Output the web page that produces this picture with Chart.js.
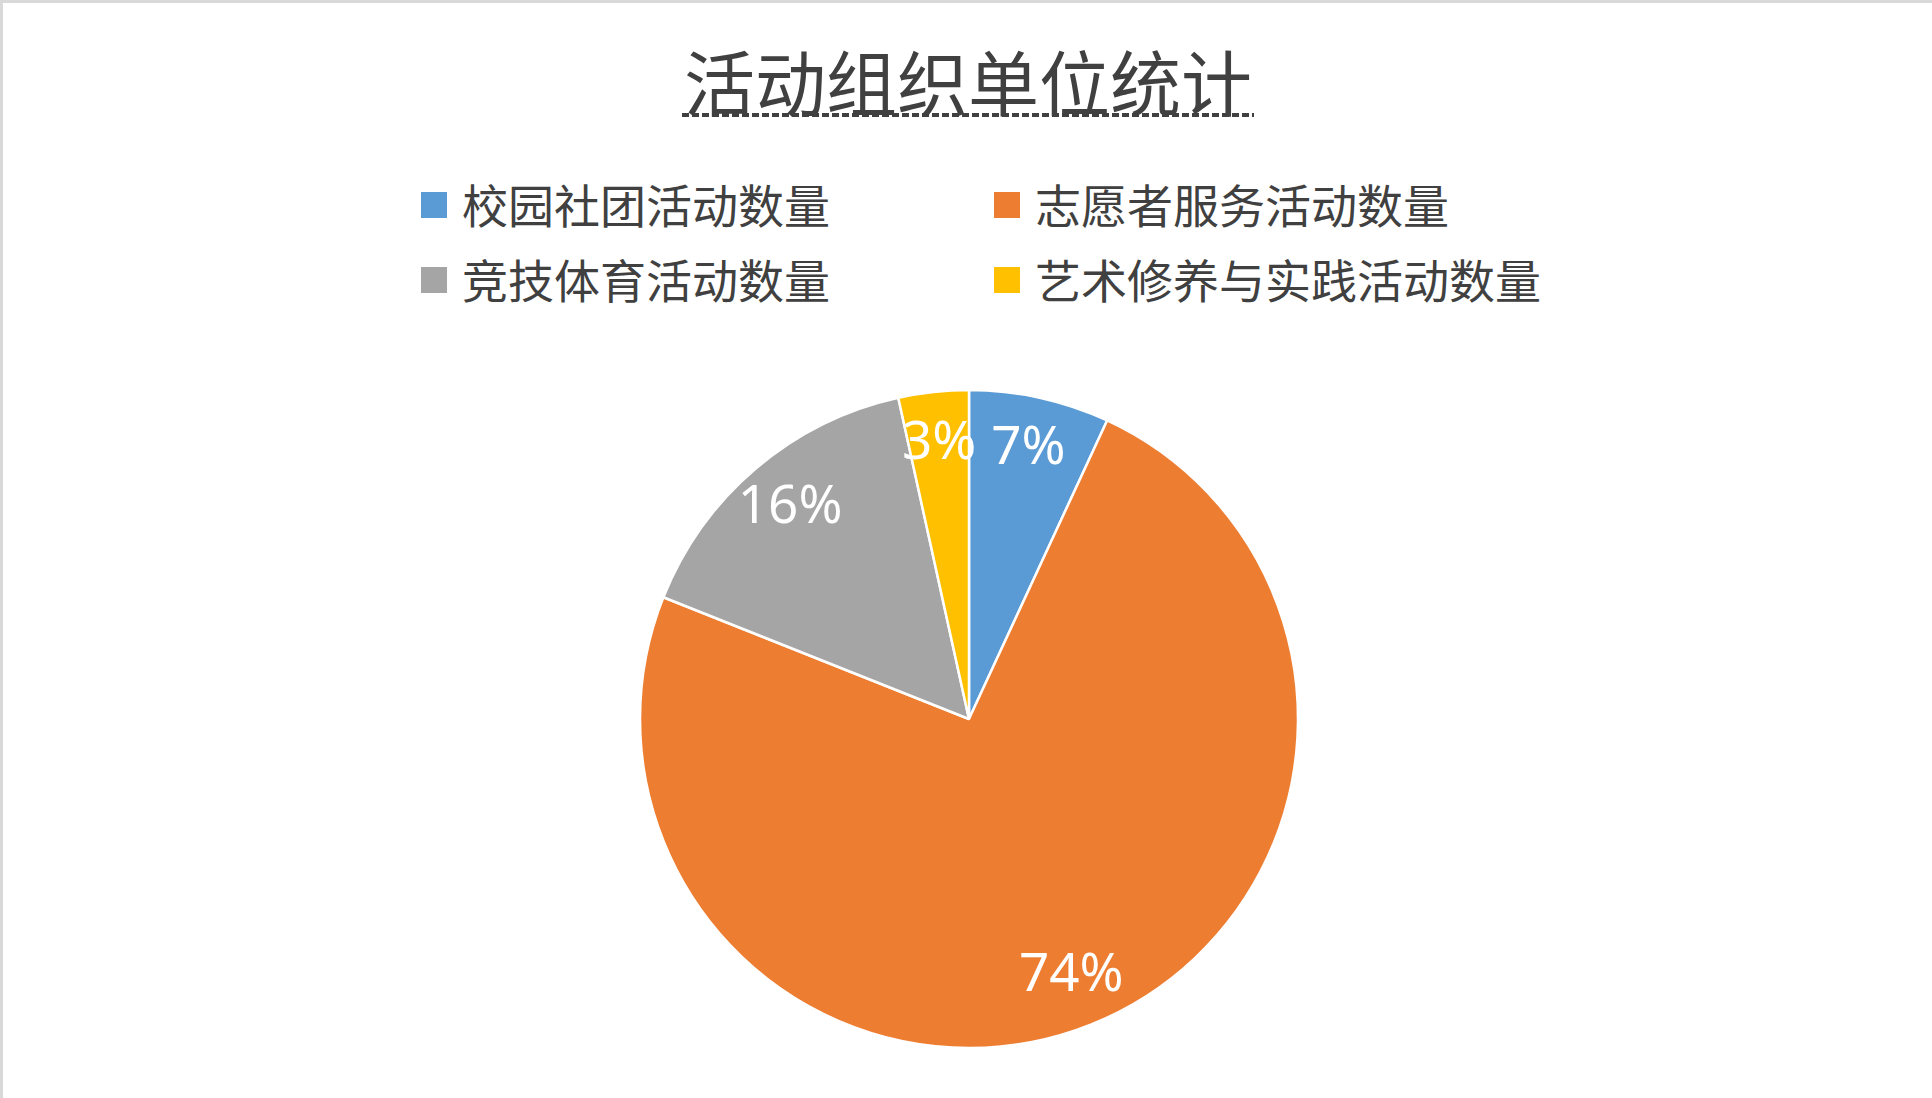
<!DOCTYPE html>
<html lang="zh-CN">
<head>
  <meta charset="UTF-8" />
  <title>活动组织单位统计</title>
  <script src="https://cdn.jsdelivr.net/npm/chart.js"></script>
  <style>
    body {
      margin: 0;
      width: 1932px;
      height: 1098px;
      background: #ffffff;
      position: relative;
      overflow: hidden;
      font-family: "Noto Sans CJK SC", "Noto Sans", sans-serif;
      color: #404040;
    }

    .edge-top { position: absolute; left: 0; top: 0; width: 1932px; height: 3px; background: #d9d9d9; }
    .edge-left { position: absolute; left: 0; top: 0; width: 3px; height: 1098px; background: #d9d9d9; }

    .title {
      position: absolute;
      left: 684px;
      top: 44px;
      font-size: 71px;
      line-height: 71px;
      white-space: nowrap;
    }

    /* 标题下的虚线 */
    .title-line {
      position: absolute;
      left: 682px;
      top: 113px;
      width: 572px;
      height: 4px;
      background: repeating-linear-gradient(to right, #404040 0 7px, transparent 7px 10px);
    }

    .legend-item {
      position: absolute;
      display: flex;
      align-items: center;
      height: 46px;
      font-size: 46px;
      line-height: 46px;
      white-space: nowrap;
    }

    .legend-box {
      width: 26px;
      height: 26px;
      margin-right: 15px;
      position: relative;
      top: 2px;
    }

    #pie-wrap {
      position: absolute;
      left: 619px;
      top: 369px;
      width: 700px;
      height: 700px;
    }
  </style>
</head>
<body>

<div class="edge-top"></div>
<div class="edge-left"></div>
<div class="title" id="title"></div>
<div class="title-line"></div>
<div id="legend"></div>
<div id="pie-wrap"><canvas id="pie"></canvas></div>

<script>
  // Data
  const chartTitle = '活动组织单位统计';
  const categories = ['校园社团活动数量', '志愿者服务活动数量', '竞技体育活动数量', '艺术修养与实践活动数量'];
  const values = [4, 43, 9, 2];
  const colors = ['#5B9BD5', '#ED7D31', '#A5A5A5', '#FFC000'];

  document.getElementById('title').textContent = chartTitle;

  // Legend 2 kolom seperti Excel
  const legendCols = [421, 994];
  const legendRows = [180, 255];
  const legendEl = document.getElementById('legend');
  categories.forEach((label, i) => {
    const item = document.createElement('div');
    item.className = 'legend-item';
    item.style.left = legendCols[i % 2] + 'px';
    item.style.top = legendRows[Math.floor(i / 2)] + 'px';
    item.innerHTML = `<span class="legend-box" style="background:${colors[i]}"></span><span>${label}</span>`;
    legendEl.appendChild(item);
  });

  // Label persen di dalam irisan
  const sliceLabels = {
    id: 'sliceLabels',
    afterDatasetsDraw(chart) {
      const ctx = chart.ctx;
      const data = chart.data.datasets[0].data;
      const total = data.reduce((a, b) => a + b, 0);
      const meta = chart.getDatasetMeta(0);
      ctx.save();
      ctx.fillStyle = '#ffffff';
      ctx.font = '53px "Noto Sans", "Open Sans", sans-serif';
      ctx.textAlign = 'center';
      ctx.textBaseline = 'middle';
      meta.data.forEach((arc, i) => {
        const p = arc.getProps(['x', 'y', 'startAngle', 'endAngle', 'outerRadius'], true);
        const mid = (p.startAngle + p.endAngle) / 2;
        const r = p.outerRadius * 0.84;
        const text = Math.round(data[i] / total * 100) + '%';
        ctx.fillText(text, p.x + Math.cos(mid) * r, p.y + Math.sin(mid) * r);
      });
      ctx.restore();
    }
  };

  new Chart(document.getElementById('pie'), {
    type: 'pie',
    data: {
      labels: categories,
      datasets: [{
        data: values,
        backgroundColor: colors,
        borderColor: '#ffffff',
        borderWidth: 2.5
      }]
    },
    options: {
      responsive: true,
      maintainAspectRatio: false,
      animation: false,
      radius: 329,
      layout: { padding: 0 },
      plugins: {
        legend: { display: false },
        tooltip: { enabled: false },
        title: { display: false }
      }
    },
    plugins: [sliceLabels]
  });
</script>

</body>
</html>
